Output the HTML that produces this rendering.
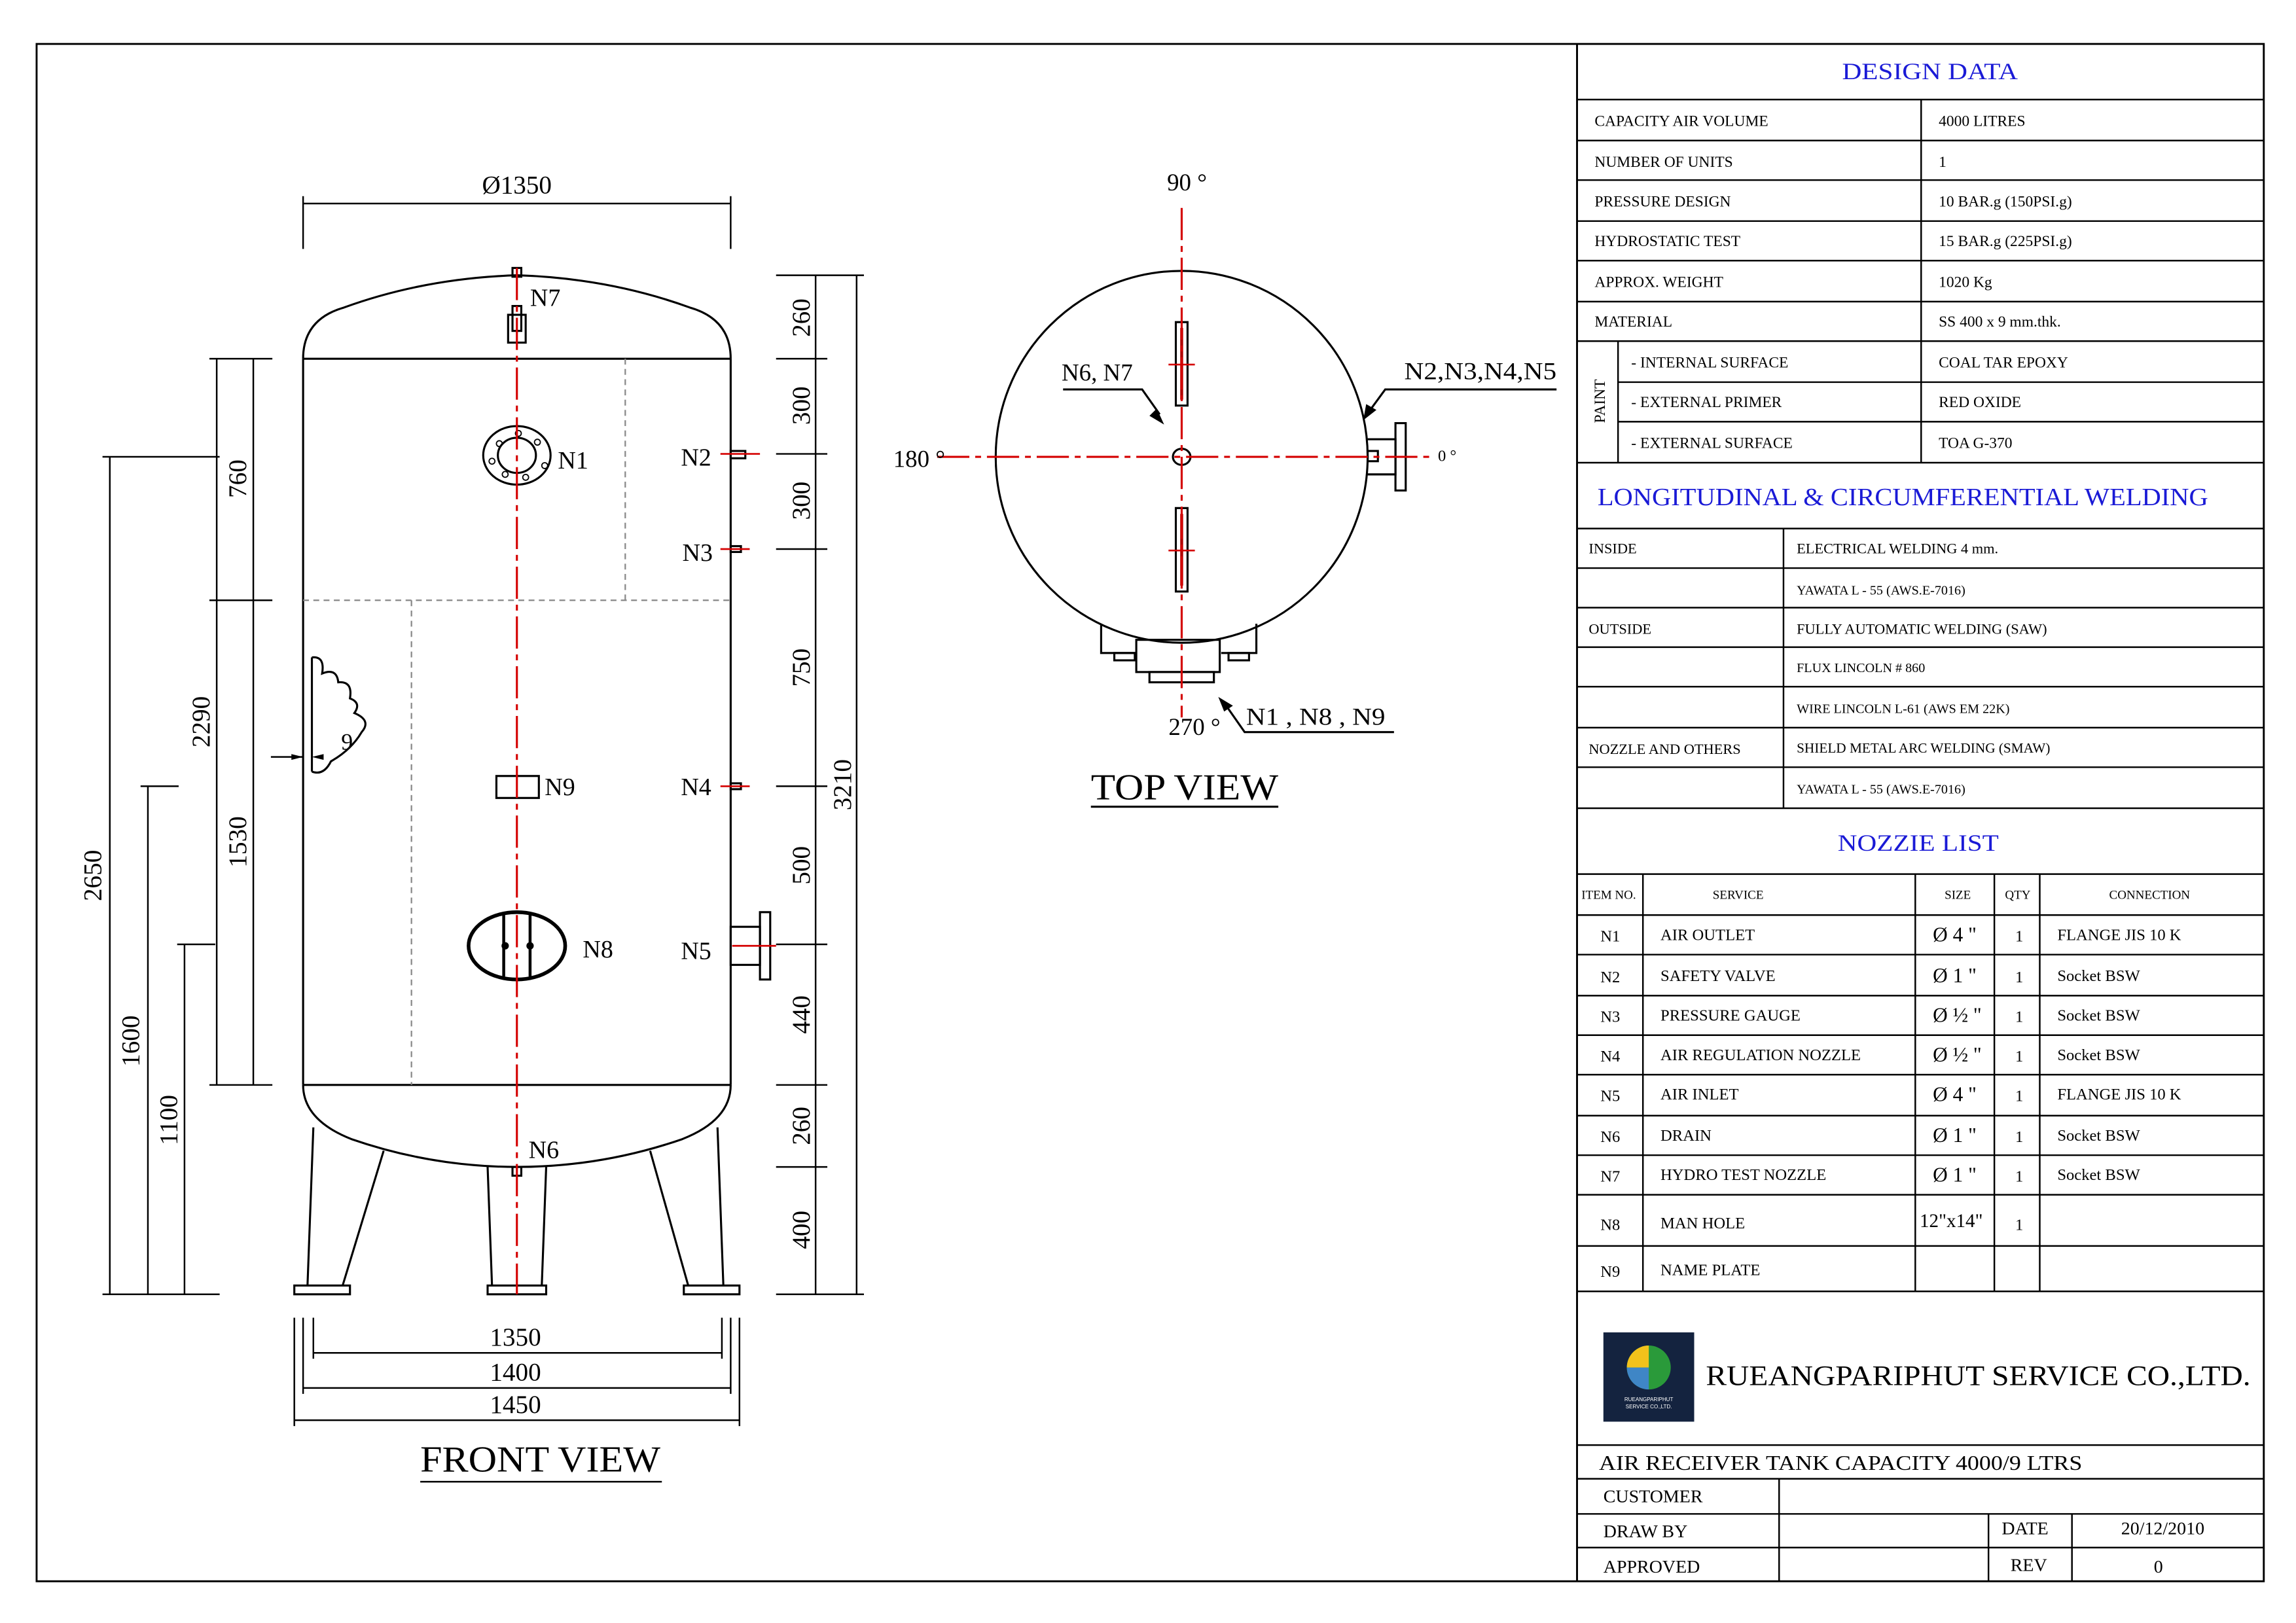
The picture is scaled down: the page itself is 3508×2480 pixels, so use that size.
<!DOCTYPE html>
<html><head><meta charset="utf-8">
<style>
html,body{margin:0;padding:0;background:#fff;}
svg{display:block;}
text{font-family:"Liberation Serif",serif;fill:#000;}
.b{fill:#1a1ad6;}
</style></head><body>
<svg width="3508" height="2480" viewBox="0 0 1568 1108.5" xmlns="http://www.w3.org/2000/svg">
<g fill="none" stroke="#000" stroke-width="1.3">
<rect x="25" y="30" width="1521" height="1050"/>
<line x1="1077" y1="30" x2="1077" y2="1080"/>
<g stroke-width="1.1">
<line x1="1077" y1="68" x2="1546" y2="68"/>
<line x1="1077" y1="96" x2="1546" y2="96"/>
<line x1="1077" y1="123" x2="1546" y2="123"/>
<line x1="1077" y1="151" x2="1546" y2="151"/>
<line x1="1077" y1="178" x2="1546" y2="178"/>
<line x1="1077" y1="206" x2="1546" y2="206"/>
<line x1="1077" y1="233" x2="1546" y2="233"/>
<line x1="1105" y1="261" x2="1546" y2="261"/>
<line x1="1105" y1="288" x2="1546" y2="288"/>
<line x1="1077" y1="316" x2="1546" y2="316"/>
<line x1="1312" y1="68" x2="1312" y2="316"/>
<line x1="1105" y1="233" x2="1105" y2="316"/>
<line x1="1077" y1="361" x2="1546" y2="361"/>
<line x1="1077" y1="388" x2="1546" y2="388"/>
<line x1="1077" y1="415" x2="1546" y2="415"/>
<line x1="1077" y1="442" x2="1546" y2="442"/>
<line x1="1077" y1="469" x2="1546" y2="469"/>
<line x1="1077" y1="497" x2="1546" y2="497"/>
<line x1="1077" y1="524" x2="1546" y2="524"/>
<line x1="1077" y1="552" x2="1546" y2="552"/>
<line x1="1218" y1="361" x2="1218" y2="552"/>
<line x1="1077" y1="597" x2="1546" y2="597"/>
<line x1="1077" y1="625" x2="1546" y2="625"/>
<line x1="1077" y1="652" x2="1546" y2="652"/>
<line x1="1077" y1="680" x2="1546" y2="680"/>
<line x1="1077" y1="707" x2="1546" y2="707"/>
<line x1="1077" y1="734" x2="1546" y2="734"/>
<line x1="1077" y1="762" x2="1546" y2="762"/>
<line x1="1077" y1="789" x2="1546" y2="789"/>
<line x1="1077" y1="816" x2="1546" y2="816"/>
<line x1="1077" y1="851" x2="1546" y2="851"/>
<line x1="1077" y1="882" x2="1546" y2="882"/>
<line x1="1122" y1="597" x2="1122" y2="882"/>
<line x1="1308" y1="597" x2="1308" y2="882"/>
<line x1="1362" y1="597" x2="1362" y2="882"/>
<line x1="1393" y1="597" x2="1393" y2="882"/>
<line x1="1077" y1="987" x2="1546" y2="987"/>
<line x1="1077" y1="1010" x2="1546" y2="1010"/>
<line x1="1077" y1="1034" x2="1546" y2="1034"/>
<line x1="1077" y1="1057" x2="1546" y2="1057"/>
<line x1="1215" y1="1010" x2="1215" y2="1080"/>
<line x1="1358" y1="1034" x2="1358" y2="1080"/>
<line x1="1415" y1="1034" x2="1415" y2="1080"/>
</g>
</g>
<text x="1318" y="54" font-size="16" text-anchor="middle" class="b" textLength="120" lengthAdjust="spacingAndGlyphs">DESIGN DATA</text>
<g font-size="10.5">
<text x="1089" y="86">CAPACITY  AIR  VOLUME</text><text x="1324" y="86">4000  LITRES</text>
<text x="1089" y="114">NUMBER OF UNITS</text><text x="1324" y="114">1</text>
<text x="1089" y="141">PRESSURE  DESIGN</text><text x="1324" y="141">10   BAR.g   (150PSI.g)</text>
<text x="1089" y="168">HYDROSTATIC  TEST</text><text x="1324" y="168">15   BAR.g   (225PSI.g)</text>
<text x="1089" y="196">APPROX. WEIGHT</text><text x="1324" y="196">1020  Kg</text>
<text x="1089" y="223">MATERIAL</text><text x="1324" y="223">SS 400 x 9  mm.thk.</text>
<text x="1114" y="251">- INTERNAL  SURFACE</text><text x="1324" y="251">COAL TAR EPOXY</text>
<text x="1114" y="278">- EXTERNAL  PRIMER</text><text x="1324" y="278">RED  OXIDE</text>
<text x="1114" y="306">- EXTERNAL  SURFACE</text><text x="1324" y="306">TOA G-370</text>
<text x="1096" y="274" transform="rotate(-90 1096 274)" text-anchor="middle">PAINT</text>
</g>
<text x="1091" y="345" font-size="17" class="b" textLength="417" lengthAdjust="spacingAndGlyphs">LONGITUDINAL &amp; CIRCUMFERENTIAL WELDING</text>
<g font-size="10">
<text x="1085" y="378">INSIDE</text><text x="1227" y="378">ELECTRICAL WELDING 4 mm.</text>
<text x="1227" y="406" font-size="9">YAWATA  L - 55 (AWS.E-7016)</text>
<text x="1085" y="433">OUTSIDE</text><text x="1227" y="433">FULLY AUTOMATIC WELDING (SAW)</text>
<text x="1227" y="459" font-size="9">FLUX LINCOLN # 860</text>
<text x="1227" y="487" font-size="9">WIRE LINCOLN L-61 (AWS EM 22K)</text>
<text x="1085" y="515">NOZZLE AND OTHERS</text><text x="1227" y="514" font-size="9.5">SHIELD METAL ARC WELDING (SMAW)</text>
<text x="1227" y="542" font-size="9">YAWATA  L - 55 (AWS.E-7016)</text>
</g>
<text x="1310" y="581" font-size="16" text-anchor="middle" class="b" textLength="110" lengthAdjust="spacingAndGlyphs">NOZZIE  LIST</text>
<g font-size="8.5">
<text x="1080" y="614">ITEM NO.</text><text x="1187" y="614" text-anchor="middle">SERVICE</text>
<text x="1337" y="614" text-anchor="middle">SIZE</text><text x="1378" y="614" text-anchor="middle">QTY</text><text x="1468" y="614" text-anchor="middle">CONNECTION</text>
</g>
<g font-size="11">
<text x="1093" y="643">N1</text><text x="1134" y="642">AIR OUTLET</text><text x="1320" y="643" font-size="14">Ø 4  "</text><text x="1379" y="643" text-anchor="middle">1</text><text x="1405" y="642">FLANGE  JIS 10 K</text>
<text x="1093" y="671">N2</text><text x="1134" y="670">SAFETY  VALVE</text><text x="1320" y="671" font-size="14">Ø 1 "</text><text x="1379" y="671" text-anchor="middle">1</text><text x="1405" y="670">Socket  BSW</text>
<text x="1093" y="698">N3</text><text x="1134" y="697">PRESSURE  GAUGE</text><text x="1320" y="698" font-size="14">Ø ½ "</text><text x="1379" y="698" text-anchor="middle">1</text><text x="1405" y="697">Socket  BSW</text>
<text x="1093" y="725">N4</text><text x="1134" y="724">AIR  REGULATION NOZZLE</text><text x="1320" y="725" font-size="14">Ø ½ "</text><text x="1379" y="725" text-anchor="middle">1</text><text x="1405" y="724">Socket  BSW</text>
<text x="1093" y="752">N5</text><text x="1134" y="751">AIR INLET</text><text x="1320" y="752" font-size="14">Ø 4 "</text><text x="1379" y="752" text-anchor="middle">1</text><text x="1405" y="751">FLANGE  JIS 10 K</text>
<text x="1093" y="780">N6</text><text x="1134" y="779">DRAIN</text><text x="1320" y="780" font-size="14">Ø 1 "</text><text x="1379" y="780" text-anchor="middle">1</text><text x="1405" y="779">Socket  BSW</text>
<text x="1093" y="807">N7</text><text x="1134" y="806">HYDRO TEST NOZZLE</text><text x="1320" y="807" font-size="14">Ø 1 "</text><text x="1379" y="807" text-anchor="middle">1</text><text x="1405" y="806">Socket  BSW</text>
<text x="1093" y="840">N8</text><text x="1134" y="839">MAN  HOLE</text><text x="1311" y="838" font-size="13">12"x14"</text><text x="1379" y="840" text-anchor="middle">1</text>
<text x="1093" y="872">N9</text><text x="1134" y="871">NAME  PLATE</text>
</g>
<rect x="1095" y="910" width="62" height="61" fill="#14233f"/>
<circle cx="1126" cy="934" r="15" fill="#2a9a3a"/>
<path d="M1126 919 A15 15 0 0 0 1111 934 L1126 934 Z" fill="#f2c21b"/>
<path d="M1111 934 A15 15 0 0 0 1126 949 L1126 934 Z" fill="#3f86c6"/>
<text x="1126" y="957" font-size="3.6" text-anchor="middle" style="fill:#fff;font-family:'Liberation Sans',sans-serif">RUEANGPARIPHUT</text>
<text x="1126" y="962" font-size="3.6" text-anchor="middle" style="fill:#fff;font-family:'Liberation Sans',sans-serif">SERVICE CO.,LTD.</text>
<text x="1165" y="946" font-size="19.5" textLength="372" lengthAdjust="spacingAndGlyphs">RUEANGPARIPHUT SERVICE CO.,LTD.</text>
<text x="1092" y="1004" font-size="14" textLength="330" lengthAdjust="spacingAndGlyphs">AIR RECEIVER TANK CAPACITY 4000/9  LTRS</text>
<g font-size="12.5">
<text x="1095" y="1026">CUSTOMER</text>
<text x="1095" y="1050">DRAW BY</text><text x="1367" y="1048">DATE</text><text x="1477" y="1048" text-anchor="middle">20/12/2010</text>
<text x="1095" y="1074">APPROVED</text><text x="1373" y="1073">REV</text><text x="1474" y="1074" text-anchor="middle">0</text>
</g>

<!-- FRONT VIEW -->
<g fill="none" stroke="#000" stroke-width="1.4">
<path d="M207 245 Q207 218 235 210 Q290 190 353 188 Q416 190 471 210 Q499 218 499 245"/>
<line x1="207" y1="245" x2="499" y2="245"/>
<line x1="207" y1="245" x2="207" y2="741"/>
<line x1="499" y1="245" x2="499" y2="741"/>
<line x1="207" y1="741" x2="499" y2="741"/>
<path d="M207 741 Q207 765 240 778 Q295 797 353 797 Q411 797 466 778 Q499 765 499 741"/>
<path d="M214 770 L210 878 M262 786 L234 878"/>
<path d="M333 797 L336 878 M373 797 L370 878"/>
<path d="M444 786 L470 878 M490 770 L494 878"/>
<rect x="201" y="878" width="38" height="6"/><rect x="333" y="878" width="40" height="6"/><rect x="467" y="878" width="38" height="6"/>
<rect x="350" y="183" width="6" height="6"/>
<rect x="347" y="215" width="12" height="19"/><rect x="350" y="209" width="6" height="17"/>
<ellipse cx="353" cy="311" rx="23" ry="20"/><ellipse cx="353" cy="311" rx="13" ry="12"/>
<rect x="499" y="308" width="10" height="5"/>
<rect x="499" y="373" width="7" height="4"/>
<rect x="499" y="535" width="7" height="4"/>
<rect x="499" y="633" width="20" height="26"/><rect x="519" y="623" width="7" height="46"/>
<rect x="339" y="530" width="29" height="15"/>
<ellipse cx="353" cy="646" rx="33" ry="23" stroke-width="2.5"/>
<line x1="344" y1="625" x2="344" y2="667" stroke-width="2"/><line x1="362" y1="625" x2="362" y2="667" stroke-width="2"/>
<rect x="350" y="797" width="6" height="6"/>
<path d="M213 449 L213 527 M213 449 Q222 448 220 460 Q230 456 231 466 Q241 465 239 477 Q247 480 242 487 Q254 492 247 500 Q240 512 226 520 Q221 530 213 527"/>
</g>
<g fill="#000" stroke="none">
<circle cx="345" cy="646" r="2.5"/><circle cx="362" cy="646" r="2.5"/>
</g>
<g fill="none" stroke="#000" stroke-width="0.8">
<circle cx="341" cy="303" r="2"/><circle cx="367" cy="302" r="2"/><circle cx="336" cy="315" r="2"/><circle cx="372" cy="318" r="2"/><circle cx="354" cy="296" r="2"/><circle cx="359" cy="326" r="2"/><circle cx="345" cy="324" r="2"/>
</g>
<g stroke="#888" stroke-width="1" stroke-dasharray="4,3" fill="none">
<line x1="207" y1="410" x2="499" y2="410"/><line x1="427" y1="245" x2="427" y2="410"/><line x1="281" y1="410" x2="281" y2="741"/>
</g>
<g stroke="#d40000" stroke-width="1.4" stroke-dasharray="22,4,4,4" fill="none">
<line x1="353" y1="183" x2="353" y2="884"/>
</g>
<g stroke="#d40000" stroke-width="1.2">
<line x1="492" y1="310" x2="519" y2="310"/><line x1="492" y1="375" x2="512" y2="375"/><line x1="492" y1="537" x2="512" y2="537"/><line x1="500" y1="646" x2="530" y2="646"/>
</g>
<g font-size="17">
<text x="362" y="209">N7</text><text x="381" y="320">N1</text><text x="465" y="318">N2</text><text x="466" y="383">N3</text><text x="465" y="543">N4</text><text x="465" y="655">N5</text>
<text x="372" y="543">N9</text><text x="398" y="654">N8</text><text x="361" y="791">N6</text>
<text x="233" y="512" font-size="16">9</text>
</g>
<g stroke="#000" stroke-width="1.1" fill="none">
<line x1="207" y1="139" x2="499" y2="139"/><line x1="207" y1="134" x2="207" y2="170"/><line x1="499" y1="134" x2="499" y2="170"/>
<line x1="557" y1="188" x2="557" y2="884"/><line x1="585" y1="188" x2="585" y2="884"/>
<line x1="530" y1="188" x2="590" y2="188"/><line x1="530" y1="245" x2="565" y2="245"/><line x1="530" y1="310" x2="565" y2="310"/><line x1="530" y1="375" x2="565" y2="375"/><line x1="530" y1="537" x2="565" y2="537"/><line x1="530" y1="645" x2="565" y2="645"/><line x1="530" y1="741" x2="565" y2="741"/><line x1="530" y1="797" x2="565" y2="797"/><line x1="530" y1="884" x2="590" y2="884"/>
<line x1="75" y1="312" x2="75" y2="884"/><line x1="148" y1="245" x2="148" y2="741"/><line x1="173" y1="245" x2="173" y2="741"/><line x1="101" y1="537" x2="101" y2="884"/><line x1="126" y1="645" x2="126" y2="884"/>
<line x1="70" y1="312" x2="150" y2="312"/><line x1="143" y1="245" x2="186" y2="245"/><line x1="143" y1="410" x2="186" y2="410"/><line x1="143" y1="741" x2="186" y2="741"/>
<line x1="96" y1="537" x2="122" y2="537"/><line x1="121" y1="645" x2="147" y2="645"/><line x1="70" y1="884" x2="150" y2="884"/>
<line x1="214" y1="924" x2="493" y2="924"/><line x1="207" y1="948" x2="499" y2="948"/><line x1="201" y1="970" x2="505" y2="970"/>
<line x1="214" y1="900" x2="214" y2="928"/><line x1="493" y1="900" x2="493" y2="928"/><line x1="207" y1="900" x2="207" y2="952"/><line x1="499" y1="900" x2="499" y2="952"/><line x1="201" y1="900" x2="201" y2="974"/><line x1="505" y1="900" x2="505" y2="974"/>
<line x1="287" y1="1012" x2="452" y2="1012"/>
<line x1="185" y1="517" x2="207" y2="517"/>
</g>
<g fill="#000"><path d="M207 517 L199 515 L199 519 Z"/><path d="M213 517 L221 515 L221 519 Z"/></g>
<g font-size="17.5">
<text x="353" y="132" text-anchor="middle">Ø1350</text>
<text x="352" y="919" text-anchor="middle">1350</text><text x="352" y="943" text-anchor="middle">1400</text><text x="352" y="965" text-anchor="middle">1450</text>
<g text-anchor="middle">
<text transform="translate(553 217) rotate(-90)">260</text>
<text transform="translate(553 277) rotate(-90)">300</text>
<text transform="translate(553 342) rotate(-90)">300</text>
<text transform="translate(553 456) rotate(-90)">750</text>
<text transform="translate(553 591) rotate(-90)">500</text>
<text transform="translate(553 693) rotate(-90)">440</text>
<text transform="translate(553 769) rotate(-90)">260</text>
<text transform="translate(553 840) rotate(-90)">400</text>
<text transform="translate(581 536) rotate(-90)">3210</text>
<text transform="translate(69 598) rotate(-90)">2650</text>
<text transform="translate(143 493) rotate(-90)">2290</text>
<text transform="translate(168 327) rotate(-90)">760</text>
<text transform="translate(168 575) rotate(-90)">1530</text>
<text transform="translate(95 711) rotate(-90)">1600</text>
<text transform="translate(121 765) rotate(-90)">1100</text>
</g>
</g>
<text x="369" y="1005" font-size="25" text-anchor="middle" textLength="164" lengthAdjust="spacingAndGlyphs">FRONT VIEW</text>

<!-- TOP VIEW -->
<g fill="none" stroke="#000" stroke-width="1.4">
<circle cx="807" cy="312" r="127"/>
<path d="M752 426 L752 446 L776 446 M858 426 L858 446 L834 446"/>
<rect x="776" y="437" width="57" height="22"/>
<rect x="785" y="459" width="44" height="7"/>
<rect x="761" y="446" width="14" height="5"/><rect x="839" y="446" width="14" height="5"/>
<rect x="803" y="220" width="8" height="57"/><rect x="803" y="347" width="8" height="57"/>
<ellipse cx="807" cy="312" rx="6" ry="5.5"/>
<path d="M934 300 L953 300 L953 324 L934 324"/><rect x="953" y="289" width="7" height="46"/><rect x="934" y="308" width="7" height="7"/>
<path d="M726 266 L780 266 L792 283 M1063 266 L946 266 L935 281 M952 500 L850 500 L836 480"/>
<line x1="745" y1="551" x2="873" y2="551"/>
</g>
<g fill="#000">
<path d="M795 290 L785 284 L790 279 Z"/><path d="M931 287 L933 276 L940 280 Z"/><path d="M832 476 L842 482 L836 486 Z"/>
</g>
<g stroke="#b00000" stroke-width="2"><line x1="807" y1="224" x2="807" y2="273"/><line x1="807" y1="351" x2="807" y2="400"/></g>
<g stroke="#d40000" stroke-width="1.4" stroke-dasharray="22,4,4,4" fill="none">
<line x1="807" y1="142" x2="807" y2="490"/><line x1="640" y1="312" x2="976" y2="312"/>
</g>
<g stroke="#d40000" stroke-width="1.2"><line x1="798" y1="249" x2="816" y2="249"/><line x1="798" y1="376" x2="816" y2="376"/></g>
<g font-size="16.5">
<text x="797" y="130">90 °</text><text x="610" y="319">180 °</text><text x="982" y="315" font-size="11">0 °</text>
<text x="798" y="502">270 °</text><text x="725" y="260">N6, N7</text><text x="959" y="259" textLength="104" lengthAdjust="spacingAndGlyphs">N2,N3,N4,N5</text><text x="851" y="495" textLength="95" lengthAdjust="spacingAndGlyphs">N1 , N8 , N9</text>
</g>
<text x="809" y="546" font-size="25" text-anchor="middle" textLength="128" lengthAdjust="spacingAndGlyphs">TOP VIEW</text>
</svg>
</body></html>
